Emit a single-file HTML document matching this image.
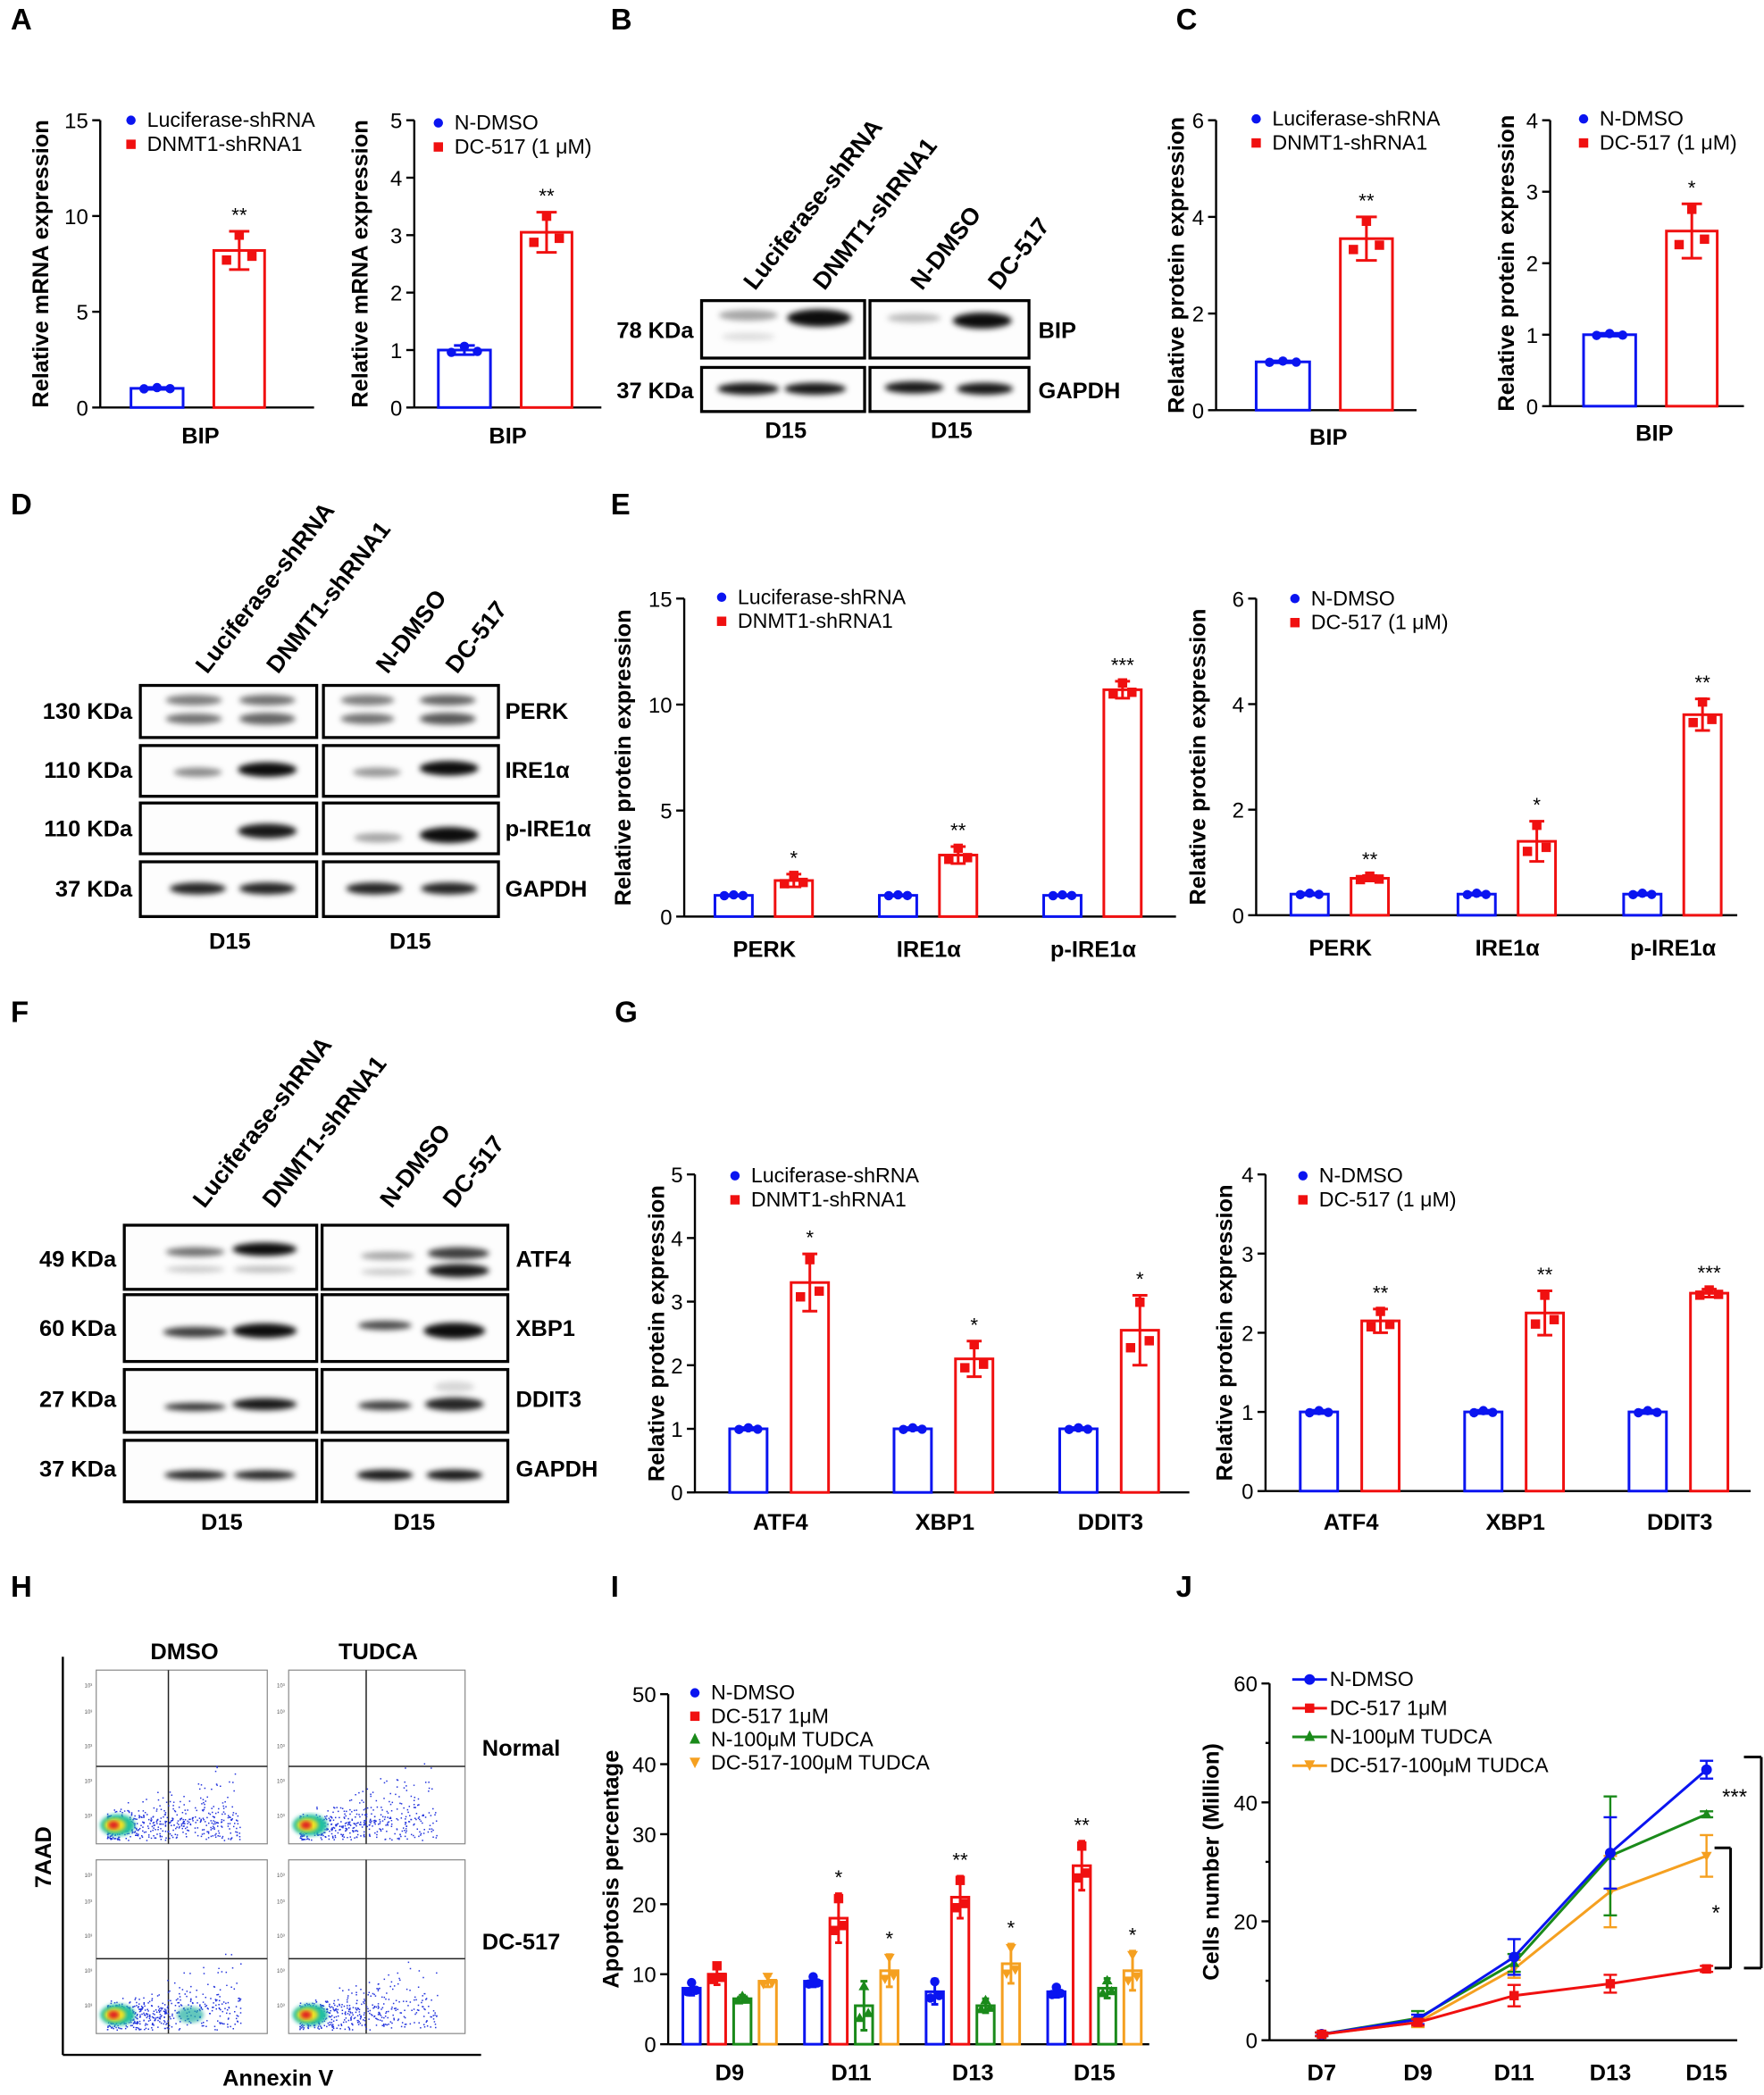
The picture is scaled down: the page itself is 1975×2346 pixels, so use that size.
<!DOCTYPE html>
<html><head><meta charset="utf-8"><style>html,body{margin:0;padding:0;background:#fff}svg{display:block}</style></head>
<body>
<svg id="s" xmlns="http://www.w3.org/2000/svg" width="1975" height="2346" viewBox="0 0 1320 1568" font-family="Liberation Sans, Noto Sans CJK SC, sans-serif">
<defs>
<filter id="bl" x="-20%" y="-80%" width="140%" height="260%"><feGaussianBlur stdDeviation="2.2"/></filter>
<filter id="bl2"><feGaussianBlur stdDeviation="1.5"/></filter>
</defs>
<rect width="1320" height="1568" fill="#fff"/>
</svg>
<script>
const NS="http://www.w3.org/2000/svg",S=document.getElementById('s');
function el(t,a,txt){const e=document.createElementNS(NS,t);for(const k in a)e.setAttribute(k,a[k]);if(txt!=null)e.textContent=txt;S.appendChild(e);return e;}
function T(x,y,s,o){return el('text',Object.assign({x:x,y:y,'font-size':16,fill:'#000'},o||{}),s);}
function L(x1,y1,x2,y2,c,w){return el('line',{x1,y1,x2,y2,stroke:c||'#000','stroke-width':w||1.6});}
const BL='#0a14f0',RD='#f01010',GR='#1a8a1a',OR='#f5a020';
// panel letters
[['A',8,22],['B',457,22],['C',880,22],['D',8,385],['E',457,385],['F',8,765],['G',460,765],['H',8,1195],['I',457,1195],['J',880,1195]].forEach(a=>T(a[1],a[2],a[0],{'font-size':22,'font-weight':'bold'}));

function axis(o){ // x0,yT,yB,vmax,ticks,xE,title,tx
  const Y=v=>o.yB-(v/o.vmax)*(o.yB-o.yT);
  L(o.x0,o.yT,o.x0,o.yB);L(o.x0,o.yB,o.xE,o.yB);
  o.ticks.forEach(v=>{L(o.x0-6,Y(v),o.x0,Y(v));T(o.x0-9,Y(v)+6,String(v),{'text-anchor':'end'});});
  if(o.minor)o.minor.forEach(v=>L(o.x0-3,Y(v),o.x0,Y(v)));
  const my=(o.yT+o.yB)/2;
  T(o.tx,my,o.title,{'text-anchor':'middle','font-size':17,'font-weight':'bold',transform:`rotate(-90 ${o.tx} ${my})`});
  return Y;
}
function bar(Y,yB,x,w,v,e,col,shape,star,cap){
  el('rect',{x,y:Y(v),width:w,height:yB-Y(v),fill:'#fff',stroke:col,'stroke-width':2});
  const cx=x+w/2;
  if(e>0){L(cx,Y(v+e),cx,Y(v-e),col,2);L(cx-w*0.2,Y(v+e),cx+w*0.2,Y(v+e),col,2);L(cx-w*0.2,Y(v-e),cx+w*0.2,Y(v-e),col,2);}
  const pts=e>0?[v-e*0.5,v+e*0.8,v-e*0.3]:[v,v,v];
  [0.25,0.5,0.75].forEach((f,i)=>{const px=x+w*f,py=Y(pts[i]);
    if(shape=='c')el('circle',{cx:px,cy:py,r:3.5,fill:col});
    else if(shape=='s')el('rect',{x:px-3.5,y:py-3.5,width:7,height:7,fill:col});
    else if(shape=='t')el('polygon',{points:`${px},${py-4} ${px-4},${py+3} ${px+4},${py+3}`,fill:col});
    else el('polygon',{points:`${px},${py+4} ${px-4},${py-3} ${px+4},${py-3}`,fill:col});});
  if(star)T(cx,Y(v+e)-7,star,{'text-anchor':'middle','font-size':15});
}
function legend(x,y,items,dy){items.forEach((it,i)=>{const yy=y+i*(dy||18);
  if(it[1]=='c')el('circle',{cx:x,cy:yy-5,r:3.5,fill:it[0]});else if(it[1]=='s')el('rect',{x:x-3.5,y:yy-8.5,width:7,height:7,fill:it[0]});
  else if(it[1]=='t')el('polygon',{points:`${x},${yy-10} ${x-4},${yy-2} ${x+4},${yy-2}`,fill:it[0]});
  else el('polygon',{points:`${x},${yy-1} ${x-4},${yy-9} ${x+4},${yy-9}`,fill:it[0]});
  T(x+12,yy,it[2],{'font-size':15.5});});}
const LG1=[[BL,'c','Luciferase-shRNA'],[RD,'s','DNMT1-shRNA1']],LG2=[[BL,'c','N-DMSO'],[RD,'s','DC-517 (1 μM)']];
function cat(x,y,s){T(x,y,s,{'text-anchor':'middle','font-size':17,'font-weight':'bold'});}

// A
let Y=axis({x0:75,yT:90,yB:305,vmax:15,ticks:[0,5,10,15],xE:235,title:'Relative mRNA expression',tx:36});
bar(Y,305,98,39,1,0.05,BL,'c');bar(Y,305,160,38,8.2,1,RD,'s','**');cat(150,332,'BIP');legend(98,95,LG1);
Y=axis({x0:310,yT:90,yB:305,vmax:5,ticks:[0,1,2,3,4,5],xE:450,title:'Relative mRNA expression',tx:275});
bar(Y,305,328,39,1,0.08,BL,'c');bar(Y,305,390,38,3.05,0.35,RD,'s','**');cat(380,332,'BIP');legend(328,97,LG2);
// C
Y=axis({x0:910,yT:90,yB:307,vmax:6,ticks:[0,2,4,6],xE:1060,title:'Relative protein expression',tx:886});
bar(Y,307,940,40,1,0.02,BL,'c');bar(Y,307,1003,39,3.55,0.45,RD,'s','**');cat(994,333,'BIP');legend(940,94,LG1);
Y=axis({x0:1160,yT:90,yB:304,vmax:4,ticks:[0,1,2,3,4],xE:1305,title:'Relative protein expression',tx:1133});
bar(Y,304,1185,39,1,0.02,BL,'c');bar(Y,304,1247,38,2.45,0.38,RD,'s','*');cat(1238,330,'BIP');legend(1185,94,LG2);

// E
Y=axis({x0:512,yT:448,yB:686,vmax:15,ticks:[0,5,10,15],xE:880,title:'Relative protein expression',tx:472});
[[572,'PERK',1.7,0.3,'*'],[695,'IRE1α',2.9,0.4,'**'],[818,'p-IRE1α',10.7,0.4,'***']].forEach(g=>{
 bar(Y,686,g[0]-37,28,1,0.03,BL,'c');bar(Y,686,g[0]+8,28,g[2],g[3],RD,'s',g[4]);cat(g[0],716,g[1]);});
legend(540,452,LG1);
Y=axis({x0:940,yT:448,yB:685,vmax:6,ticks:[0,2,4,6],xE:1300,title:'Relative protein expression',tx:902});
[[1003,'PERK',0.7,0.05,'**'],[1128,'IRE1α',1.4,0.38,'*'],[1252,'p-IRE1α',3.8,0.3,'**']].forEach(g=>{
 bar(Y,685,g[0]-37,28,0.4,0.02,BL,'c');bar(Y,685,g[0]+8,28,g[2],g[3],RD,'s',g[4]);cat(g[0],715,g[1]);});
legend(969,453,LG2);
// G
Y=axis({x0:520,yT:879,yB:1117,vmax:5,ticks:[0,1,2,3,4,5],xE:890,title:'Relative protein expression',tx:497});
[[584,'ATF4',3.3,0.45,'*'],[707,'XBP1',2.1,0.28,'*'],[831,'DDIT3',2.55,0.55,'*']].forEach(g=>{
 bar(Y,1117,g[0]-38,28,1,0.02,BL,'c');bar(Y,1117,g[0]+8,28,g[2],g[3],RD,'s',g[4]);cat(g[0],1145,g[1]);});
legend(550,885,LG1);
Y=axis({x0:947,yT:879,yB:1116,vmax:4,ticks:[0,1,2,3,4],xE:1310,title:'Relative protein expression',tx:922});
[[1011,'ATF4',2.15,0.15,'**'],[1134,'XBP1',2.25,0.28,'**'],[1257,'DDIT3',2.5,0.05,'***']].forEach(g=>{
 bar(Y,1116,g[0]-38,28,1,0.02,BL,'c');bar(Y,1116,g[0]+8,28,g[2],g[3],RD,'s',g[4]);cat(g[0],1145,g[1]);});
legend(975,885,LG2);

// I
Y=axis({x0:500,yT:1268,yB:1530,vmax:50,ticks:[0,10,20,30,40,50],xE:860,title:'Apoptosis percentage',tx:463});
const Id=[[546,'D9',[8,10,6.5,9],[1,1.5,0.5,0.8],['','','','']],[637,'D11',[9,18,5.5,10.5],[0.8,3.5,3.5,2.3],['','*','','*']],[728,'D13',[7.5,21,5.5,11.5],[1.8,3,1,2.8],['','**','','*']],[819,'D15',[7.5,25.5,8,10.5],[0.8,3.5,1.4,2.8],['','**','','*']]];
const Ic=[BL,RD,GR,OR],Is=['c','s','t','v'];
Id.forEach(g=>{for(let i=0;i<4;i++)bar(Y,1530,g[0]-35+i*19,13,g[2][i],g[3][i],Ic[i],Is[i],g[4][i]||null);cat(g[0],1557,g[1]);});
legend(520,1272,[[BL,'c','N-DMSO'],[RD,'s','DC-517 1μM'],[GR,'t','N-100μM TUDCA'],[OR,'v','DC-517-100μM TUDCA']],17.5);
// J
Y=axis({x0:950,yT:1260,yB:1527,vmax:60,ticks:[0,20,40,60],minor:[10,30,50],xE:1300,title:'Cells number (Million)',tx:912});
const Jx=[989,1061,1133,1205,1277];
const Jd=[[OR,'v',[1,3,12,25,31],[0.3,0.8,1.5,6,3.5]],[GR,'t',[1,3.7,13,31,38],[0.3,1.2,1.5,10,0.5]],[BL,'c',[1,3.5,14,31.5,45.5],[0.3,0.8,3,6,1.5]],[RD,'s',[1,3,7.5,9.5,12],[0.3,0.5,1.8,1.5,0.5]]];
Jd.forEach(d=>{el('polyline',{points:Jx.map((x,i)=>x+','+Y(d[2][i])).join(' '),fill:'none',stroke:d[0],'stroke-width':2});
 Jx.forEach((x,i)=>{const v=d[2][i],e=d[3][i];L(x,Y(v+e),x,Y(v-e),d[0],1.6);L(x-5,Y(v+e),x+5,Y(v+e),d[0],1.6);L(x-5,Y(v-e),x+5,Y(v-e),d[0],1.6);
  const py=Y(v);if(d[1]=='c')el('circle',{cx:x,cy:py,r:4,fill:d[0]});else if(d[1]=='s')el('rect',{x:x-3.5,y:py-3.5,width:7,height:7,fill:d[0]});
  else if(d[1]=='t')el('polygon',{points:`${x},${py-4} ${x-4},${py+3} ${x+4},${py+3}`,fill:d[0]});else el('polygon',{points:`${x},${py+4} ${x-4},${py-3} ${x+4},${py-3}`,fill:d[0]});});});
['D7','D9','D11','D13','D15'].forEach((s,i)=>cat(Jx[i],1557,s));
[[BL,'c','N-DMSO'],[RD,'s','DC-517 1μM'],[GR,'t','N-100μM TUDCA'],[OR,'v','DC-517-100μM TUDCA']].forEach((it,i)=>{const yy=1262+i*21.5;
 L(967,yy-5,993,yy-5,it[0],2);
 if(it[1]=='c')el('circle',{cx:980,cy:yy-5,r:4,fill:it[0]});else if(it[1]=='s')el('rect',{x:976.5,y:yy-8.5,width:7,height:7,fill:it[0]});
 else if(it[1]=='t')el('polygon',{points:`980,${yy-10} 976,${yy-2} 984,${yy-2}`,fill:it[0]});else el('polygon',{points:`980,${yy-1} 976,${yy-9} 984,${yy-9}`,fill:it[0]});
 T(995,yy,it[2],{'font-size':15.5});});
L(1305,1315,1318,1315,'#000',2);L(1318,1315,1318,1473,'#000',2);L(1305,1473,1318,1473,'#000',2);T(1298,1350,'***',{'text-anchor':'middle','font-size':16});
L(1283,1383,1295,1383,'#000',2);L(1295,1383,1295,1473,'#000',2);L(1283,1473,1295,1473,'#000',2);T(1284,1437,'*',{'text-anchor':'middle','font-size':16});

// blots
function box(x,y,w,h){el('rect',{x,y,width:w,height:h,fill:'#fdfdfd',stroke:'#000','stroke-width':2.2});}
function band(cx,cy,w,h,a){el('ellipse',{cx,cy,rx:w/2,ry:h/2,fill:`rgba(0,0,0,${a})`,filter:'url(#bl)'});}
function rot(x,y,s){T(x,y,s,{'font-size':18,'font-weight':'bold',transform:`rotate(-52 ${x} ${y})`});}
function lbl(x,y,s,anchor){T(x,y,s,{'font-size':17,'font-weight':'bold','text-anchor':anchor||'start'});}
// B
box(525,225,122,43);box(651,225,119,43);box(525,275,122,33);box(651,275,119,33);
band(560,236,44,8,0.35);band(560,252,40,6,0.12);band(613,238,48,13,0.95);band(684,238,40,7,0.25);band(735,240,44,12,0.95);
band(560,291,46,9,0.9);band(610,291,46,9,0.9);band(684,290,44,9,0.9);band(737,291,42,9,0.9);
lbl(519,253,'78 KDa','end');lbl(519,298,'37 KDa','end');lbl(777,253,'BIP');lbl(777,298,'GAPDH');
lbl(588,328,'D15','middle');lbl(712,328,'D15','middle');
rot(565,218,'Luciferase-shRNA');rot(617,218,'DNMT1-shRNA1');rot(690,218,'N-DMSO');rot(748,218,'DC-517');
// D
[[513,552],[558,596],[601,639],[645,686]].forEach(r=>{box(105,r[0],132,r[1]-r[0]);box(242,r[0],131,r[1]-r[0]);});
band(145,524,42,8,0.5);band(145,538,42,8,0.55);band(200,524,42,8,0.55);band(200,538,42,9,0.6);
band(275,524,40,8,0.5);band(275,538,40,8,0.55);band(335,524,42,8,0.6);band(335,538,42,9,0.65);
band(148,578,36,7,0.45);band(200,576,44,11,0.95);band(282,578,36,7,0.4);band(336,575,44,11,0.95);
band(200,622,44,11,0.9);band(283,627,36,7,0.35);band(336,625,44,12,0.95);
band(148,665,42,9,0.85);band(200,665,42,9,0.85);band(280,665,42,9,0.85);band(336,665,42,9,0.85);
[['130 KDa',538],['110 KDa',582],['110 KDa',626],['37 KDa',671]].forEach(a=>lbl(99,a[1],a[0],'end'));
[['PERK',538],['IRE1α',582],['p-IRE1α',626],['GAPDH',671]].forEach(a=>lbl(378,a[1],a[0]));
lbl(172,710,'D15','middle');lbl(307,710,'D15','middle');
rot(155,505,'Luciferase-shRNA');rot(208,505,'DNMT1-shRNA1');rot(290,505,'N-DMSO');rot(342,505,'DC-517');
// F
[[917,965],[969,1019],[1025,1072],[1078,1124]].forEach(r=>{box(93,r[0],144,r[1]-r[0]);box(241,r[0],139,r[1]-r[0]);});
band(146,937,44,7,0.55);band(146,950,44,5,0.2);band(198,935,48,10,0.95);band(198,950,46,5,0.25);
band(290,940,40,6,0.35);band(290,952,40,5,0.2);band(343,938,46,9,0.75);band(343,951,46,10,0.9);
band(146,997,48,8,0.75);band(198,996,48,11,0.95);band(288,992,40,7,0.7);band(340,996,46,12,0.95);
band(146,1053,46,6,0.8);band(198,1051,48,9,0.9);band(288,1052,40,7,0.75);band(340,1051,44,10,0.85);band(340,1038,30,8,0.15);
band(146,1104,46,7,0.85);band(198,1104,46,7,0.85);band(288,1104,42,8,0.9);band(340,1104,42,8,0.9);
[['49 KDa',948],['60 KDa',1000],['27 KDa',1053],['37 KDa',1105]].forEach(a=>lbl(87,a[1],a[0],'end'));
[['ATF4',948],['XBP1',1000],['DDIT3',1053],['GAPDH',1105]].forEach(a=>lbl(386,a[1],a[0]));
lbl(166,1145,'D15','middle');lbl(310,1145,'D15','middle');
rot(153,905,'Luciferase-shRNA');rot(205,905,'DNMT1-shRNA1');rot(293,905,'N-DMSO');rot(340,905,'DC-517');

// H flow
L(47,1240,47,1538);L(47,1538,360,1538);
let seed=7;const rnd=()=>{seed=(seed*16807)%2147483647;return seed/2147483647;};
function flow(x,y,w,h,qx,qy,extra){el('rect',{x,y,width:w,height:h,fill:'#fff',stroke:'#888','stroke-width':0.8});
 L(qx,y,qx,y+h,'#222',1);L(x,qy,x+w,qy,'#222',1);
 let d='';for(let i=0;i<520;i++){const r=rnd(),r2=rnd(),r3=rnd();const px=x+8+Math.pow(r,1.6)*w*0.78,py=y+h-12-(r2-0.5)*18-Math.pow(r3,4)*h*0.45*(px-x)/w;d+=`M${px.toFixed(1)} ${py.toFixed(1)}h1v1h-1z`;}
 el('path',{d,fill:'#2233dd'});
 el('ellipse',{cx:x+16,cy:y+h-14,rx:13,ry:8,fill:'#20c0a0',filter:'url(#bl2)'});
 el('ellipse',{cx:x+14,cy:y+h-14,rx:8,ry:5,fill:'#f0e020',filter:'url(#bl2)'});
 el('ellipse',{cx:x+13,cy:y+h-14,rx:4,ry:3,fill:'#e02020',filter:'url(#bl2)'});
 if(extra)el('ellipse',{cx:x+w*0.55,cy:y+h-14,rx:10,ry:6,fill:'#20b0a0',opacity:0.7,filter:'url(#bl2)'});
 [0.15,0.35,0.55,0.75,0.9].forEach(f=>{T(x-3,y+h-f*h,'10³',{'font-size':4,'text-anchor':'end',fill:'#555'});});}
flow(72,1250,128,130,126,1322);flow(216,1250,132,130,274,1322);flow(72,1392,128,130,126,1466,true);flow(216,1392,132,130,274,1466);
lbl(138,1242,'DMSO','middle');lbl(283,1242,'TUDCA','middle');lbl(390,1314,'Normal','middle');lbl(390,1459,'DC-517','middle');
T(38,1390,'7AAD',{'font-size':17,'font-weight':'bold','text-anchor':'middle',transform:'rotate(-90 38 1390)'});
lbl(208,1561,'Annexin V','middle');
</script>
</body></html>
